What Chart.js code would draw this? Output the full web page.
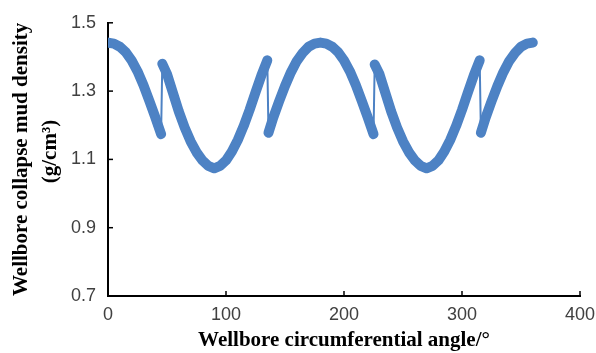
<!DOCTYPE html>
<html>
<head>
<meta charset="utf-8">
<script src="https://cdn.jsdelivr.net/npm/chart.js@4"></script>
<style>
  html, body { margin: 0; padding: 0; background: #fff; }
  #wrap { width: 596px; height: 353px; position: relative; }
</style>
</head>
<body>
<div id="wrap"><canvas id="chart"></canvas></div>
<script>
// angle (deg) and collapse mud density (g/cm3)
const angles = [
  0, 5, 10, 15, 20, 25, 30, 35, 40, 45,
  46, 50, 55, 60, 65, 70, 75, 80, 85, 90, 95, 100, 105, 110, 115, 120, 125, 130, 135,
  136, 140, 145, 150, 155, 160, 165, 170, 175, 180, 185, 190, 195, 200, 205, 210, 215, 220, 225,
  226, 230, 235, 240, 245, 250, 255, 260, 265, 270, 275, 280, 285, 290, 295, 300, 305, 310, 315,
  316, 320, 325, 330, 335, 340, 345, 350, 355, 360
];
const density = [
  1.442, 1.439, 1.430, 1.414, 1.390, 1.358, 1.318, 1.272, 1.224, 1.174,
  1.380, 1.350, 1.295, 1.240, 1.193, 1.153, 1.121, 1.097, 1.081, 1.074, 1.081, 1.097, 1.123, 1.157, 1.198, 1.245, 1.296, 1.346, 1.390,
  1.178, 1.222, 1.270, 1.315, 1.355, 1.388, 1.412, 1.430, 1.439, 1.442, 1.439, 1.430, 1.414, 1.390, 1.358, 1.318, 1.272, 1.224, 1.174,
  1.378, 1.350, 1.295, 1.240, 1.193, 1.153, 1.121, 1.097, 1.081, 1.074, 1.081, 1.097, 1.123, 1.157, 1.198, 1.245, 1.296, 1.346, 1.390,
  1.178, 1.222, 1.270, 1.315, 1.355, 1.388, 1.412, 1.430, 1.439, 1.442
];
const xTicks = [0, 100, 200, 300, 400];
const yTicks = [0.7, 0.9, 1.1, 1.3, 1.5];

const xTitle = "Wellbore circumferential angle/\u00b0";
const yTitle = ["Wellbore collapse mud density", "\u00a0\u00a0\u00a0(g/cm\u00b3)"];

const points = angles.map((a, i) => ({ x: a, y: density[i] }));

// excel style tick marks pointing into the plot
const innerTicks = {
  id: "innerTicks",
  afterDraw(chart) {
    const { ctx, chartArea, scales } = chart;
    ctx.save();
    ctx.strokeStyle = "#000";
    ctx.lineWidth = 1.5;
    scales.x.ticks.forEach((t) => {
      const px = scales.x.getPixelForValue(t.value);
      ctx.beginPath();
      ctx.moveTo(px, chartArea.bottom);
      ctx.lineTo(px, chartArea.bottom - 5);
      ctx.stroke();
    });
    scales.y.ticks.forEach((t) => {
      const py = scales.y.getPixelForValue(t.value);
      ctx.beginPath();
      ctx.moveTo(chartArea.left, py);
      ctx.lineTo(chartArea.left + 5, py);
      ctx.stroke();
    });
    ctx.restore();
  },
};

const tickFont = { family: "Liberation Sans", size: 18 };
const titleFont = { family: "Liberation Serif", size: 21, weight: "bold" };

new Chart(document.getElementById("chart"), {
  type: "scatter",
  data: {
    datasets: [
      {
        data: points,
        showLine: true,
        borderColor: "#4d82c4",
        backgroundColor: "#4d82c4",
        borderWidth: 10,
        borderCapStyle: "round",
        borderJoinStyle: "round",
        pointRadius: 0,
        segment: {
          // the sudden jumps are drawn thin
          borderWidth: (c) => (Math.abs(c.p1.parsed.x - c.p0.parsed.x) < 2 ? 2 : 10),
        },
      },
    ],
  },
  options: {
    responsive: true,
    maintainAspectRatio: false,
    animation: false,
    layout: { padding: { top: 20, right: 16, left: 0, bottom: 0 } },
    plugins: { legend: { display: false }, tooltip: { enabled: false } },
    scales: {
      x: {
        type: "linear",
        min: 0,
        max: 400,
        afterBuildTicks: (s) => { s.ticks = xTicks.map((v) => ({ value: v })); },
        afterFit: (s) => {
          s.height = 57;
          s.paddingLeft = 0;
          s.paddingRight = 0;
        },
        grid: { display: false, drawTicks: false },
        border: { display: true, color: "#000", width: 2 },
        ticks: { color: "#404040", font: tickFont, padding: 8, maxRotation: 0 },
        title: { display: true, text: xTitle, color: "#000", font: titleFont, padding: { top: 0, bottom: 0 } },
      },
      y: {
        min: 0.7,
        max: 1.5,
        afterBuildTicks: (s) => { s.ticks = yTicks.map((v) => ({ value: v })); },
        afterFit: (s) => { s.width = 108; },
        grid: { display: false, drawTicks: false },
        border: { display: true, color: "#000", width: 2 },
        ticks: { color: "#404040", font: tickFont, padding: 12, callback: (v) => v.toFixed(1) },
        title: {
          display: true,
          text: yTitle,
          color: "#000",
          font: { ...titleFont, lineHeight: 1.38 },
          padding: { top: 7, bottom: 0 },
        },
      },
    },
  },
  plugins: [innerTicks],
});
</script>
</body>
</html>
